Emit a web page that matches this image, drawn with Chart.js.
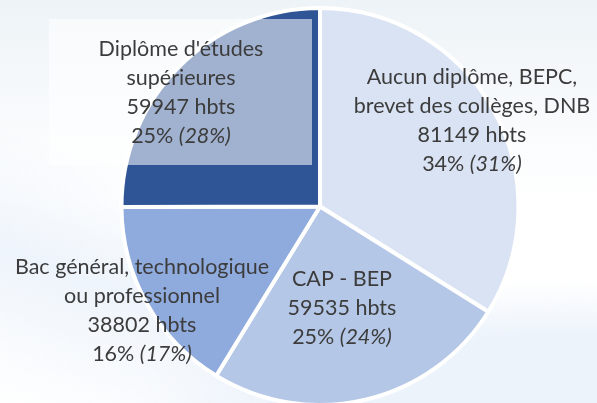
<!DOCTYPE html>
<html>
<head>
<meta charset="utf-8">
<script src="https://cdn.jsdelivr.net/npm/chart.js@4"></script>
<style>
  html, body { margin: 0; padding: 0; width: 597px; height: 403px; overflow: hidden; }
  body {
    background:
      radial-gradient(ellipse 420px 140px at 560px 420px, #edf3fb 60%, rgba(237,243,251,0) 100%),
      linear-gradient(200deg, rgba(255,255,255,0) 55%, #eef4fb 75%, rgba(238,244,251,0) 100%),
      linear-gradient(180deg, #edf3f7 0px, #f3f7fa 60px, #ffffff 200px);
  }
  #wrap { position: absolute; left: 0; top: 6px; width: 640px; height: 401px; }
</style>
</head>
<body>
<div id="wrap"><canvas id="pie"></canvas></div>
<script>
"use strict";

// Catégories (ordre horaire depuis midi)
const categories = [
    ["Aucun diplôme, BEPC,", "brevet des collèges, DNB"],
    ["CAP - BEP"],
    ["Bac général, technologique", "ou professionnel"],
    ["Diplôme d'études", "supérieures"]
];
const inhabitants = [81149, 59535, 38802, 59947];
const sharePct = [34, 25, 16, 25];
const refSharePct = [31, 24, 17, 28];   // valeur entre parenthèses

const sliceColors = ['#dae3f3', '#b4c7e7', '#8faadc', '#2f5597'];

// Centre de la 1re ligne de chaque étiquette (coordonnées page)
const labelAnchors = [
    { x: 472, y: 77 },
    { x: 342, y: 279 },
    { x: 142, y: 267 },
    { x: 181, y: 49 }
];

const FONT = '"Lato", "Open Sans", sans-serif';
const FONT_SIZE = 21.5;
const LINE_H = 29;
const TOP_OFFSET = 6;   // décalage du canvas dans la page

const labelsPlugin = {
    id: 'pieLabels',
    afterDatasetsDraw(chart) {
        const ctx = chart.ctx;
        ctx.save();
        ctx.translate(0, -TOP_OFFSET);
        // voile blanc semi-transparent derrière l'étiquette "Diplôme"
        ctx.fillStyle = 'rgba(255,255,255,0.55)';
        ctx.fillRect(49, 19, 263, 146);

        ctx.fillStyle = '#3c3c3c';
        ctx.textBaseline = 'middle';
        const normal = FONT_SIZE + 'px ' + FONT;
        const italic = 'italic ' + FONT_SIZE + 'px ' + FONT;
        categories.forEach((lines, i) => {
            const a = labelAnchors[i];
            const rows = lines.concat([inhabitants[i] + ' hbts']);
            ctx.font = normal;
            ctx.textAlign = 'center';
            rows.forEach((t, k) => ctx.fillText(t, a.x, a.y + k * LINE_H));

            // dernière ligne : "34% " normal + "(31%)" italique
            const y = a.y + rows.length * LINE_H;
            const p1 = sharePct[i] + '% ';
            const p2 = '(' + refSharePct[i] + '%)';
            ctx.font = normal;
            const w1 = ctx.measureText(p1).width;
            ctx.font = italic;
            const w2 = ctx.measureText(p2).width;
            const x0 = a.x - (w1 + w2) / 2;
            ctx.textAlign = 'left';
            ctx.font = normal;
            ctx.fillText(p1, x0, y);
            ctx.font = italic;
            ctx.fillText(p2, x0 + w1, y);
        });
        ctx.restore();
    }
};

new Chart(document.getElementById('pie'), {
    type: 'pie',
    data: {
        labels: categories.map(l => l.join(' ')),
        datasets: [{
            data: inhabitants,
            backgroundColor: sliceColors,
            borderColor: '#ffffff',
            borderWidth: 4
        }]
    },
    options: {
        responsive: true,
        maintainAspectRatio: false,
        animation: false,
        layout: { padding: 0 },
        plugins: {
            legend: { display: false },
            tooltip: { enabled: false }
        }
    },
    plugins: [labelsPlugin]
});
</script>
</body>
</html>
